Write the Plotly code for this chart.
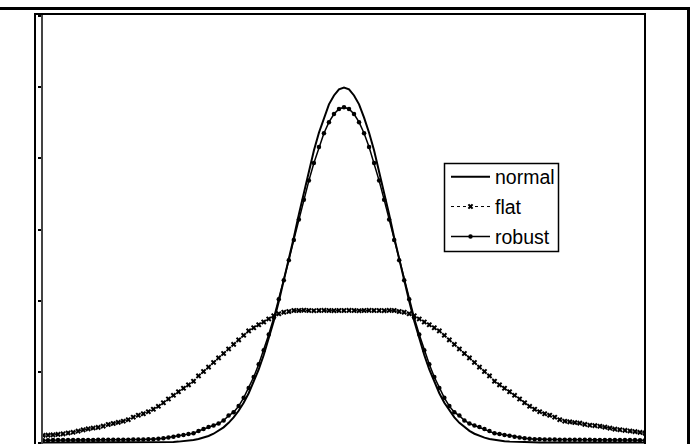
import plotly.graph_objects as go

# x grid: -6 .. 6 step 0.1 (121 points)
x_values = [round(-6 + 0.1 * i, 1) for i in range(121)]

normal = [
    0.0, 0.0, 0.0, 0.0, 0.0, 0.0, 0.0, 0.0, 0.0, 0.0, 0.0,
    0.0, 0.0, 0.0, 0.0, 0.0, 0.0, 0.0, 0.0, 0.0, 0.0, 0.0,
    0.0001, 0.0002, 0.0003, 0.0005, 0.0007, 0.0010, 0.0015, 0.0021, 0.0029, 0.0040,
    0.0055, 0.0074, 0.0099, 0.0131, 0.0171, 0.0222, 0.0283, 0.0358, 0.0448, 0.0555,
    0.0680, 0.0823, 0.0986, 0.117, 0.137, 0.159, 0.182, 0.206, 0.231, 0.257,
    0.282, 0.306, 0.329, 0.349, 0.366, 0.381, 0.391, 0.398,
    0.400,
    0.398, 0.391, 0.381, 0.366, 0.349, 0.329, 0.306, 0.282,
    0.257, 0.231, 0.206, 0.182, 0.159, 0.137, 0.117, 0.0986, 0.0823, 0.0680,
    0.0555, 0.0448, 0.0358, 0.0283, 0.0222, 0.0171, 0.0131, 0.0099, 0.0074, 0.0055,
    0.0040, 0.0029, 0.0021, 0.0015, 0.0010, 0.0007, 0.0005, 0.0003, 0.0002, 0.0001,
    0.0, 0.0, 0.0, 0.0, 0.0, 0.0, 0.0, 0.0, 0.0, 0.0, 0.0,
    0.0, 0.0, 0.0, 0.0, 0.0, 0.0, 0.0, 0.0, 0.0, 0.0, 0.0,
]

flat = [
    0.0081, 0.0083, 0.0086, 0.0091, 0.0098, 0.0107, 0.0115, 0.0128, 0.0142, 0.0154,
    0.0163, 0.0170, 0.0184, 0.0203, 0.0214, 0.0227, 0.0240, 0.0257, 0.0285, 0.0307,
    0.0324, 0.0347, 0.0375, 0.0408, 0.0448, 0.0490, 0.0532, 0.0572, 0.0611, 0.0650,
    0.0690, 0.0750, 0.0800, 0.0850, 0.0902, 0.0953, 0.1003, 0.1054, 0.1105, 0.1157,
    0.1208, 0.1257, 0.1293, 0.1327, 0.1358, 0.1392, 0.1428, 0.1451, 0.1468, 0.1476,
    0.1487, 0.1487, 0.1490, 0.1487, 0.1485, 0.1487, 0.1489, 0.1487, 0.1486, 0.1487,
    0.1487,
    0.1488, 0.1487, 0.1485, 0.1487, 0.1489, 0.1487, 0.1487, 0.1486, 0.1488, 0.1487,
    0.1476, 0.1468, 0.1451, 0.1428, 0.1392, 0.1358, 0.1327, 0.1293, 0.1257, 0.1208,
    0.1157, 0.1105, 0.1054, 0.1003, 0.0953, 0.0902, 0.0850, 0.0800, 0.0750, 0.0690,
    0.0650, 0.0611, 0.0572, 0.0532, 0.0490, 0.0448, 0.0408, 0.0375, 0.0347, 0.0324,
    0.0307, 0.0285, 0.0257, 0.0240, 0.0232, 0.0225, 0.0218, 0.0204, 0.0195, 0.0190,
    0.0183, 0.0174, 0.0162, 0.0151, 0.0144, 0.0137, 0.0130, 0.0122, 0.0114, 0.0105,
]

robust = [
    0.0026, 0.0026, 0.0027, 0.0027, 0.0027, 0.0028, 0.0028, 0.0028, 0.0029, 0.0029,
    0.0029, 0.0030, 0.0030, 0.0030, 0.0031, 0.0031, 0.0032, 0.0032, 0.0033, 0.0034,
    0.0035, 0.0036, 0.0038, 0.0042, 0.0049, 0.0056, 0.0066, 0.0076, 0.0086, 0.0097,
    0.0103, 0.0130, 0.0153, 0.0175, 0.0192, 0.0214, 0.0248, 0.0303, 0.0340, 0.0410,
    0.0504, 0.0614, 0.0738, 0.0881, 0.1040, 0.1217, 0.1407, 0.1613, 0.1829, 0.2054,
    0.2283, 0.2512, 0.2736, 0.2951, 0.3150, 0.3330, 0.3484, 0.3609, 0.3701, 0.3758,
    0.3777,
    0.3758, 0.3701, 0.3609, 0.3484, 0.3330, 0.3150, 0.2951, 0.2736, 0.2512, 0.2283,
    0.2054, 0.1829, 0.1613, 0.1407, 0.1217, 0.1040, 0.0881, 0.0738, 0.0614, 0.0504,
    0.0410, 0.0340, 0.0303, 0.0248, 0.0214, 0.0192, 0.0175, 0.0153, 0.0130, 0.0103,
    0.0097, 0.0086, 0.0076, 0.0066, 0.0056, 0.0049, 0.0042, 0.0038, 0.0036, 0.0035,
    0.0034, 0.0033, 0.0032, 0.0032, 0.0031, 0.0031, 0.0030, 0.0030, 0.0030, 0.0029,
    0.0029, 0.0029, 0.0028, 0.0028, 0.0028, 0.0027, 0.0027, 0.0027, 0.0026, 0.0026,
]

series_names = ["normal", "flat", "robust"]

fig = go.Figure()
fig.add_trace(go.Scatter(
    x=x_values, y=normal, mode="lines", name=series_names[0], legendgroup="g1",
    line=dict(color="black", width=2),
))
fig.add_trace(go.Scatter(
    x=x_values, y=flat, mode="lines+markers", name=series_names[1], legendgroup="g2",
    line=dict(color="black", width=1, dash="dot"),
    marker=dict(symbol="x", size=5, color="black"),
))
fig.add_trace(go.Scatter(
    x=x_values, y=robust, mode="lines+markers", name=series_names[2], legendgroup="g3",
    line=dict(color="black", width=1.5),
    marker=dict(symbol="circle", size=4.5, color="black"),
))

W, H = 691, 444
L, R, T, B = 43, 46, 14, 0
pw = W - L - R
ph = H - T - B

def px(xp):
    return (xp - L) / pw

def py(yp):
    return (H - B - yp) / ph

shapes = [
    # outer frame: top and right thick lines
    dict(type="line", xref="paper", yref="paper", x0=px(0), x1=px(690), y0=py(8.5), y1=py(8.5),
         line=dict(color="black", width=3)),
    dict(type="line", xref="paper", yref="paper", x0=px(688.5), x1=px(688.5), y0=py(7), y1=py(460),
         line=dict(color="black", width=3)),
    # plot box
    dict(type="line", xref="paper", yref="paper", x0=px(35), x1=px(35), y0=py(13), y1=py(460),
         line=dict(color="black", width=2)),
    dict(type="line", xref="paper", yref="paper", x0=px(34), x1=px(646), y0=py(14), y1=py(14),
         line=dict(color="black", width=2)),
    dict(type="line", xref="paper", yref="paper", x0=px(645), x1=px(645), y0=py(13), y1=py(460),
         line=dict(color="black", width=2)),
    # legend box
    dict(type="rect", xref="paper", yref="paper", x0=px(444.5), x1=px(558.5), y0=py(251.5), y1=py(163.5),
         line=dict(color="black", width=1.5)),
]

fig.update_layout(
    width=W, height=H,
    margin=dict(l=L, r=R, t=T, b=B, pad=0),
    paper_bgcolor="white", plot_bgcolor="white",
    font=dict(family="Liberation Sans, Arial, sans-serif", size=19.5, color="black"),
    showlegend=True,
    legend=dict(
        x=px(446), y=py(157.5), xanchor="left", yanchor="top",
        borderwidth=0, bgcolor="rgba(0,0,0,0)",
        font=dict(size=19.5), tracegroupgap=1.5, traceorder="grouped", itemwidth=39,
    ),
    shapes=shapes,
    xaxis=dict(range=[-6, 6], showgrid=False, zeroline=False, showline=False,
               showticklabels=False, ticks=""),
    yaxis=dict(range=[-0.00168, 0.4828], showgrid=False, zeroline=False,
               showline=True, linecolor="#444", linewidth=1.5,
               ticks="outside", ticklen=3, tickwidth=1.5, tickcolor="black",
               tick0=0, dtick=0.08, showticklabels=False),
)

fig.write_html("out.html")
